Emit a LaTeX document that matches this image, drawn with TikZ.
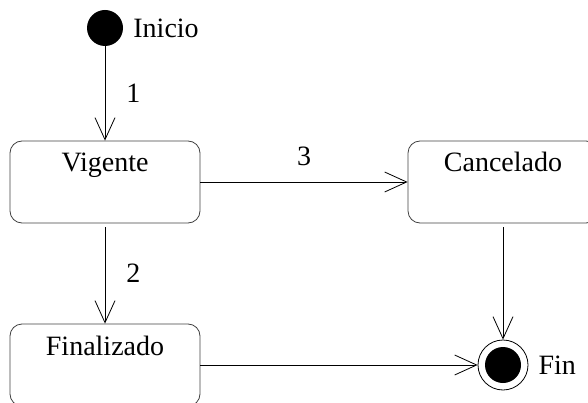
\documentclass[tikz,border=0pt]{standalone}
\usepackage{fontspec}
\setmainfont{Liberation Serif}
\usetikzlibrary{arrows.meta,positioning}
\begin{document}
\begin{tikzpicture}[x=1pt,y=-1pt,
  >={Straight Barb[length=22pt,width=20pt]},
  every node/.style={font=\fontsize{28}{32}\selectfont},
  estado/.style={draw=black!75,line width=0.8pt,rounded corners=12pt,minimum width=190pt,
    inner ysep=0pt,text height=31pt,text depth=51pt},
  inicial/.style={circle,fill=black,minimum size=36pt,inner sep=0pt},
  final/.style={circle,draw,line width=0.8pt,minimum size=50pt,inner sep=0pt,
    path picture={\fill (path picture bounding box.center) circle (18pt);}},
  etiq/.style={inner sep=0pt},
  trans/.style={->,line width=0.8pt}]
 \clip (0,0) rectangle (588,403);
 \node[inicial] (ini) at (105,28) {};
 \node[etiq,right=10pt of ini] (iniTxt) {Inicio};
 \node[estado] (vig) at (105,182) {Vigente};
 \node[estado] (can) at (503,182) {Cancelado};
 \node[estado] (fina) at (105,365) {Finalizado};
 \node[final] (fin) at (503,365) {};
 \node[etiq,right=10pt of fin] (finTxt) {Fin};
 \draw[trans] (ini) -- node[etiq,right=21pt] (t1) {1} (vig);
 \draw[trans,shorten <=4pt] (vig) -- node[etiq,right=21pt] (t2) {2} (fina);
 \draw[trans] (vig) -- node[etiq,above=16pt] (t3) {3} (can);
 \draw[trans,shorten <=4pt] (can) -- (fin);
 \draw[trans] (fina) -- (fin);
\end{tikzpicture}
\end{document}
